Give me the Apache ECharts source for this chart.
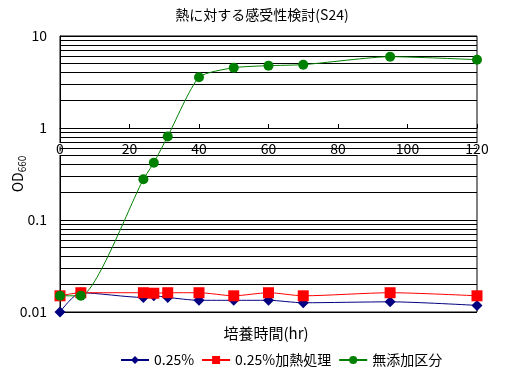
<!DOCTYPE html>
<html>
<head>
<meta charset="utf-8">
<script src="https://cdn.jsdelivr.net/npm/echarts@6/dist/echarts.min.js"></script>
<style>
html, body { margin: 0; padding: 0; background: #fff; }
#main { width: 506px; height: 378px; }
</style>
</head>
<body>
<div id="main"></div>
<script>
// 培養時間 (hr)
var hours = [0, 6, 24, 27, 31, 40, 50, 60, 70, 95, 120];
// OD660
var od025 = [0.010, 0.0162, 0.0144, 0.0150, 0.0144, 0.0134, 0.0134, 0.0134, 0.0126, 0.0129, 0.0118];
var od025Heat = [0.015, 0.0162, 0.0162, 0.0160, 0.0162, 0.0162, 0.0150, 0.0162, 0.0150, 0.0162, 0.0150];
var odNone = [0.015, 0.015, 0.277, 0.42, 0.81, 3.56, 4.52, 4.76, 4.88, 5.96, 5.53];
var seriesNames = ['0.25%', '0.25%加熱処理', '無添加区分'];
var xTicks = [0, 20, 40, 60, 80, 100, 120];
var decades = [0.01, 0.1, 1];
var minorSteps = [2, 3, 4, 5, 6, 7, 8, 9];

var font = "'Noto Sans CJK JP', sans-serif";

function pairs(ys) {
    return hours.map(function (h, i) { return [h, ys[i]]; });
}

// 対数目盛りの補助線
var minorLines = [];
decades.forEach(function (d) {
    minorSteps.forEach(function (k) {
        minorLines.push({ yAxis: +(k * d).toPrecision(3) });
    });
});

var chart = echarts.init(document.getElementById('main'));
var option = {
    backgroundColor: '#fff',
    textStyle: { fontFamily: font, color: '#000' },
    animation: false,
    title: [{
        text: '熱に対する感受性検討(S24)',
        left: 257,
        top: 3,
        textAlign: 'center',
        textStyle: { fontSize: 14, fontWeight: 'normal', color: '#000', fontFamily: font }
    }, {
        text: '培養時間(hr)',
        left: 261,
        top: 321,
        textAlign: 'center',
        textStyle: { fontSize: 15, fontWeight: 'normal', color: '#000', fontFamily: font }
    }],
    legend: {
        top: 348,
        left: 115,
        itemWidth: 28,
        itemHeight: 10,
        itemGap: 7,
        textStyle: { fontSize: 14, color: '#000', fontFamily: font },
        data: seriesNames
    },
    grid: {
        left: 60,
        right: 29,
        top: 36,
        bottom: 66,
        containLabel: false,
        outerBoundsMode: 'none',
        show: true,
        borderColor: '#000',
        borderWidth: 1
    },
    xAxis: {
        type: 'value',
        min: 0,
        max: 120,
        interval: 20,
        position: 'bottom',
        offset: -184,
        axisLine: { show: true, lineStyle: { color: '#000', width: 1 } },
        axisTick: { show: true, inside: true, length: 4, lineStyle: { color: '#000' } },
        axisLabel: {
            margin: 14,
            fontSize: 14,
            color: '#000',
            fontFamily: font,
            textBorderColor: '#fff',
            textBorderWidth: 2,
            formatter: function (v) { return xTicks.indexOf(v) >= 0 ? String(v) : ''; }
        },
        splitLine: { show: false }
    },
    yAxis: {
        type: 'log',
        logBase: 10,
        min: 0.01,
        max: 10,
        axisLine: { show: true, lineStyle: { color: '#000', width: 1 } },
        axisTick: { show: false },
        axisLabel: {
            margin: 13,
            fontSize: 14,
            color: '#000',
            fontFamily: font,
            formatter: function (v) { return String(+v.toPrecision(2)); }
        },
        splitLine: { show: true, lineStyle: { color: '#000', width: 1 } },
        name: '{a|OD}{s|660}',
        nameLocation: 'middle',
        nameGap: 33,
        nameMoveOverlap: false,
        nameRotate: 90,
        nameTextStyle: {
            rich: {
                a: { fontSize: 14, color: '#000', fontFamily: font, lineHeight: 18 },
                s: { fontSize: 10, color: '#000', fontFamily: font, verticalAlign: 'bottom', lineHeight: 18 }
            }
        }
    },
    series: [{
        name: seriesNames[0],
        type: 'line',
        smooth: 0.25,
        data: pairs(od025),
        symbol: 'diamond',
        symbolSize: 11,
        itemStyle: { color: '#000080' },
        lineStyle: { color: '#000080', width: 1 },
        markLine: {
            silent: true,
            symbol: 'none',
            z: 1,
            label: { show: false },
            lineStyle: { color: '#000', width: 1, type: 'solid' },
            emphasis: { disabled: true },
            data: minorLines
        }
    }, {
        name: seriesNames[1],
        type: 'line',
        smooth: 0.25,
        data: pairs(od025Heat),
        symbol: 'rect',
        symbolSize: 11,
        itemStyle: { color: '#ff0000' },
        lineStyle: { color: '#ff0000', width: 1 }
    }, {
        name: seriesNames[2],
        type: 'line',
        smooth: 0.2,
        data: pairs(odNone),
        symbol: 'circle',
        symbolSize: 10,
        itemStyle: { color: '#008000' },
        lineStyle: { color: '#008000', width: 1 }
    }]
};
chart.setOption(option);
</script>
</body>
</html>
